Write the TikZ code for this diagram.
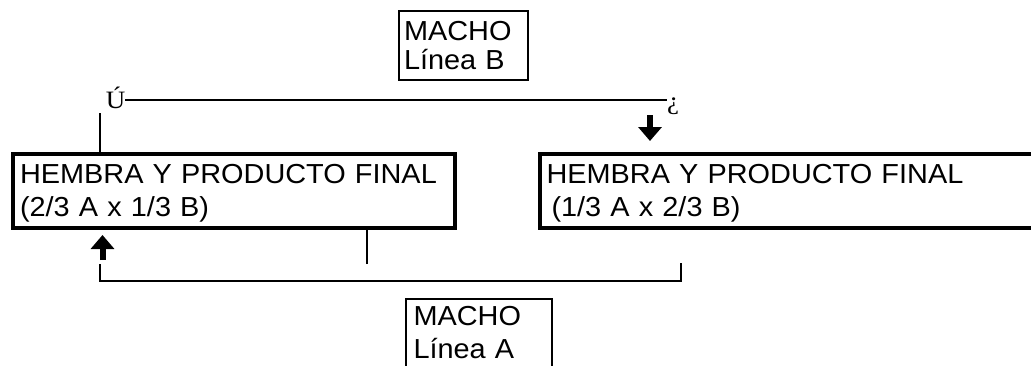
\documentclass[tikz,border=0pt]{standalone}
\usepackage{fontspec}
\setmainfont{Liberation Sans}[FakeStretch=1.05]
\newfontfamily\serifa{Liberation Serif}[FakeStretch=1.08]
\usetikzlibrary{arrows.meta}

\begin{document}
\begin{tikzpicture}[x=1pt,y=-1pt,
  caja/.style={draw,line width=4pt,anchor=north west,align=left,
    inner xsep=7pt,inner ysep=10.5pt,text depth=34.5pt,
    font=\fontsize{27.5}{33}\selectfont},
  macho/.style={draw,line width=2pt,anchor=north west,align=left,
    inner xsep=5pt,inner ysep=10pt,
    font=\fontsize{27.5}{29.5}\selectfont},
  esquina/.style={inner sep=0pt,anchor=base,text height=17pt,text depth=0pt,
    font=\serifa\fontsize{25}{25}\selectfont},
  linea/.style={line width=2pt},
  flecha/.style={line width=6pt,-{Triangle[width=23pt,length=14pt]}}]
  \useasboundingbox (0,0) rectangle (1031,365);

  % upper male and the line over both females
  \node[macho,text width=119pt] (machoB) at (398,10) {MACHO\\Línea B};
  \node[esquina] (esqIzq) at (115.5,108) {Ú};
  \node[esquina] (esqDer) at (673,109) {¿};
  \draw[linea] (esqIzq.east) -- (esqDer.west |- esqIzq.east);

  % the two females
  \node[caja,text width=427.5pt] (hembraIzq) at (11,151.5)
    {HEMBRA Y PRODUCTO FINAL\\(2/3 A x 1/3 B)};
  \node[caja,text width=493pt] (hembraDer) at (537.5,151.5)
    {HEMBRA Y PRODUCTO FINAL\\\hspace*{5pt}(1/3 A x 2/3 B)};

  % drops from the upper line
  \coordinate (bajaIzq) at (100,113);
  \draw[linea] (bajaIzq) -- (bajaIzq |- hembraIzq.north);
  \coordinate (flechaB1) at (650,115);
  \coordinate (flechaB2) at (650,141);
  \draw[flecha] (flechaB1) -- (flechaB2);

  % lower male and its bracket
  \node[macho,inner xsep=8pt,inner ysep=7.5pt,text depth=63pt,text width=130pt]
    (machoA) at (404.5,297.5) {MACHO\\[3.5pt]Línea A};
  \coordinate (subeA) at (367,264);
  \draw[linea] (subeA) -- (subeA |- hembraIzq.south);
  \coordinate (ramaIzq) at (100,264);
  \coordinate (fondoA) at (681,281);
  \coordinate (ramaDer) at (681,263);
  \draw[linea] (ramaIzq) |- (fondoA) -- (ramaDer);
  \coordinate (flechaA1) at (102.5,260);
  \coordinate (flechaA2) at (102.5,235);
  \draw[flecha] (flechaA1) -- (flechaA2);
\end{tikzpicture}
\end{document}
